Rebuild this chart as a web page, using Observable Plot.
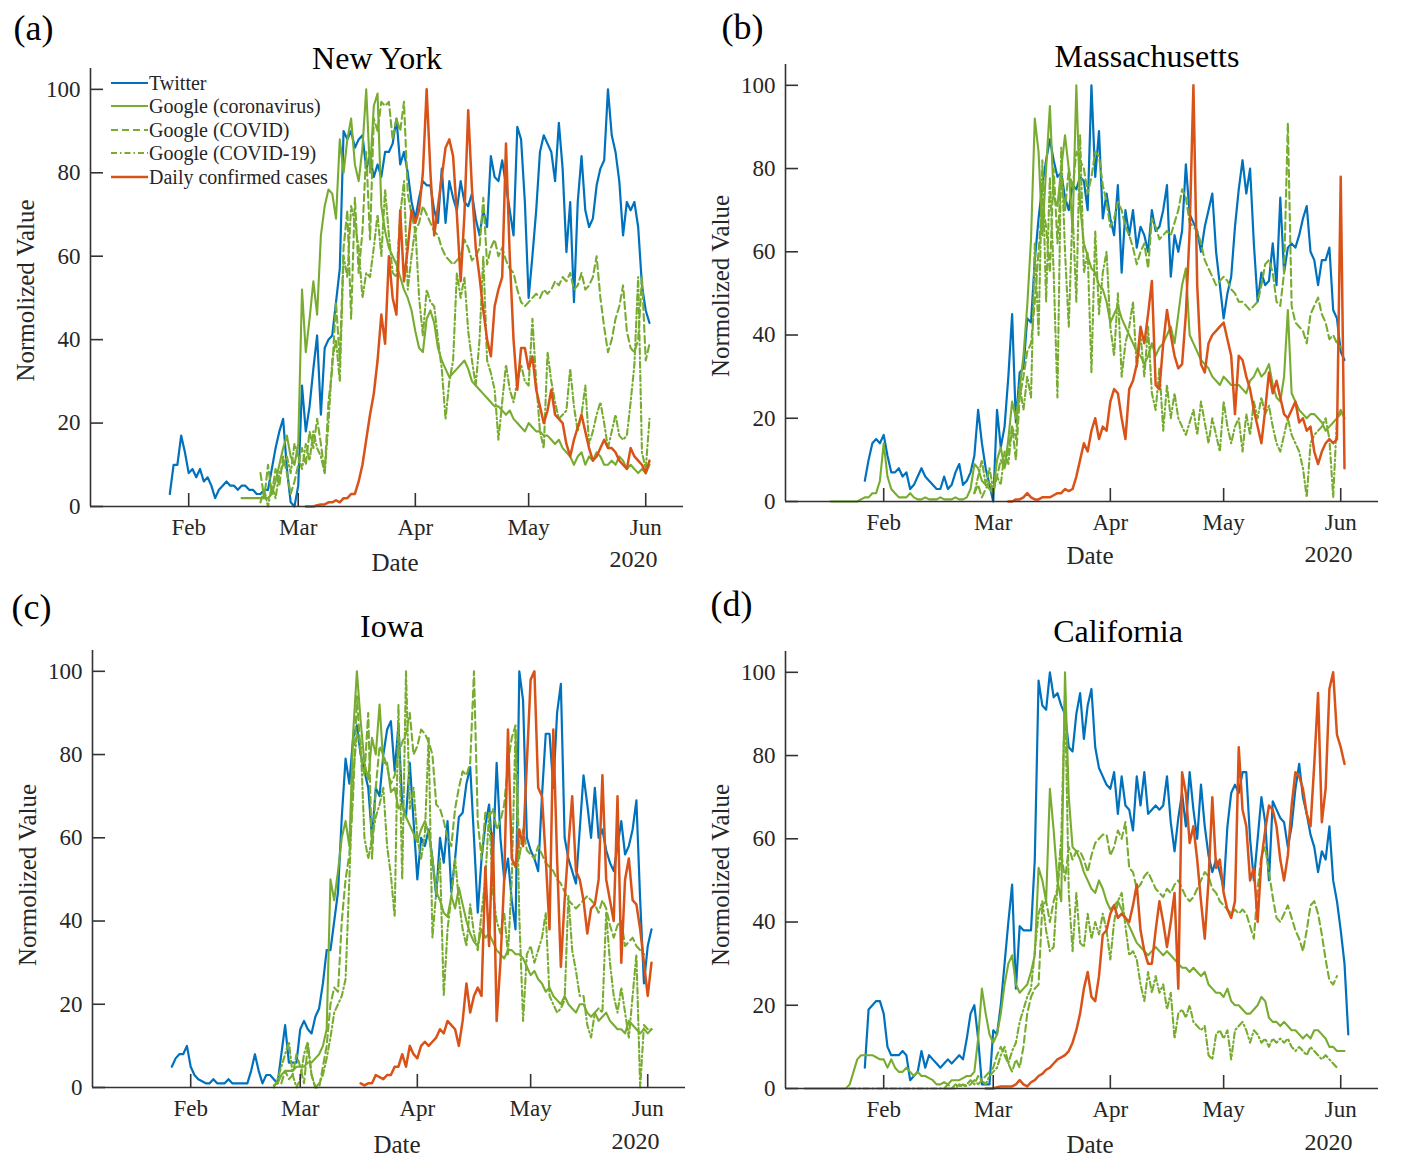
<!DOCTYPE html>
<html><head><meta charset="utf-8">
<script src="https://cdn.jsdelivr.net/npm/d3@7"></script>
<script src="https://cdn.jsdelivr.net/npm/@observablehq/plot@0.6"></script>
<style>
body{margin:0;background:#fff;}
#page{position:relative;width:1405px;height:1158px;background:#fff;overflow:hidden;font-family:"Liberation Serif","Times New Roman",serif;}
.panel{position:absolute;}
#legend{position:absolute;left:111px;top:71px;font-size:20px;color:#262626;line-height:1;}
.row{height:23.5px;display:flex;align-items:center;white-space:nowrap;}
.row svg{width:37px;height:10px;margin-right:1px;}
</style></head><body><div id="page"></div>
<script>
// ---------- shared ----------
const seriesNames = ["Twitter","Google (coronavirus)","Google (COVID)","Google (COVID-19)","Daily confirmed cases"];
const seriesStroke = ["#0072BD","#77AC30","#77AC30","#77AC30","#D95319"];
const seriesDash = [null, null, "7,4", "6,3,1.5,3", null];
const seriesWidth = [2.2, 2.1, 2.1, 2.1, 2.5];
const xDomain = ["2020-01-06","2020-06-11"];
const monthTicks = ["2020-02-01","2020-03-01","2020-04-01","2020-05-01","2020-06-01"];
const monthLabels = ["Feb","Mar","Apr","May","Jun"];
const yTicks = [0,20,40,60,80,100];
const panelTitles = ["New York","Massachusetts","Iowa","California"];
const panelTags = ["(a)","(b)","(c)","(d)"];
const yLabel = "Normolized Value";
const xLabel = "Date";
const yearLabel = "2020";

// ---------- New York ----------
const nyTwitterStart = "2020-01-27";
const nyTwitter = [3,10,10,17,13,8,9,7,9,6,7,5,2,4,5,6,5,5,4,5,5,4,4,3,3,4,4,
 9,14,18,21,9,1,0,5,
 29,18,24,33,41,22,38,40,41,49,57,
 90,88,90,86,88,89,81,84,79,82,79,85,
 85,87,93,82,85,80,73,69,74,78,77,77,71,68,81,68,78,74,71,78,73,72,75,69,65,71,67,
 84,79,78,83,77,71,65,91,88,73,50,60,71,85,89,87,85,78,92,81,61,73,49,73,84,71,67,69,77,81,83,100,89,85,78,65,73,71,73,67,53,47,44];
const nyCoronaStart = "2020-02-15";
const nyCorona = [2,2,2,2,2,2,2,2,
 3,6,10,14,17,12,10,15,
 52,37,45,54,46,65,72,76,75,69,88,80,88,93,82,78,86,100,80,96,99,72,
 66,62,60,58,55,52,50,47,42,38,37,45,47,44,38,35,33,31,32,33,34,35,33,30,
 29,28,27,26,25,24,24,23,22,23,21,20,19,18,20,19,18,18,17,17,16,15,16,14,13,12,10,12,13,10,12,11,13,12,10,10,11,10,12,11,9,10,9,8,9,8,10];
const nyCovidStart = "2020-02-20";
const nyCovid = [8,2,10,3,9,5,12,8,3,6,10,14,10,18,14,21,15,8,25,33,49,35,62,71,45,74,56,66,85,64,93,90,97,96,97,88,93,90,97,
 75,70,66,68,72,70,68,66,65,62,60,59,58,59,60,64,62,59,60,62,74,58,62,64,60,62,59,57,56,52,49,48,49,50,51,50,52,51,52,54,53,55,54,56,52,53,56,52,53,55,60,50,43,37,40,45,48,53,42,38,37,40,55,35,39];
const nyCovid19Start = "2020-02-20";
const nyCovid19 = [1,4,0,5,2,8,10,12,8,15,12,9,15,11,18,14,12,8,20,35,40,30,60,55,72,68,62,50,56,
 55,62,70,60,76,65,56,55,70,78,52,60,67,50,41,52,49,48,40,33,21,30,35,56,50,55,42,35,29,40,60,35,32,28,16,25,34,28,25,30,34,30,29,45,30,18,14,37,30,25,21,22,23,33,24,18,22,29,15,18,22,25,20,14,18,22,17,16,17,25,34,55,13,9,21];
const nyCasesStart = "2020-03-03";
const nyCases = [0,0,0,0.3,0.5,0.5,1,1,1.5,1,2,
 2,3,3,6,10,16,22,27,35,46,39,60,50,46,71,54,62,71,68,71,80,100,80,65,72,79,86,88,84,70,54,70,95,76,62,55,47,40,36,48,52,55,87,60,40,28,38,38,33,36,28,24,20,23,28,22,21,20,15,12,16,19,22,18,14,11,12,14,16,14,14,13,11,10,9,14,12,11,10,8,11];

// ---------- Massachusetts ----------
const maTwitterStart = "2020-01-27";
const maTwitter = [5,10,14,15,14,16,11,7,7,8,6,7,3,4,6,8,6,5,4,3,3,6,3,4,7,9,4,5,7,11,22,14,8,4,0,
 22,13,18,30,45,19,31,32,44,43,58,68,76,82,87,82,78,79,73,70,76,75,78,77,70,100,78,89,68,74,68,64,76,55,70,64,70,61,66,64,60,70,65,66,70,76,54,64,60,65,81,69,67,65,60,66,70,74,60,52,44,50,54,66,75,82,74,80,62,48,55,52,53,62,52,73,55,61,62,61,64,68,71,60,58,52,58,58,61,46,44,36,34];
const maCoronaStart = "2020-01-18";
const maCorona = [0,0,0,0,0,0,0,0,0.5,1,1,2,2,5,14,6,3,2,1,1,1,2,1,0.5,0.5,1,0.5,0.5,0.5,1,0.5,0.5,0.5,1,0.5,0.5,1,
 3,9,8,5,4,3,2,10,13,8,15,24,20,27,35,47,63,92,84,64,80,95,73,71,80,88,80,65,100,71,62,59,56,55,52,51,48,43,45,47,44,42,40,38,36,35,33,35,38,35,37,38,40,42,38,45,52,56,40,38,36,34,33,32,30,29,28,30,29,28,28,28,27,26,29,30,32,30,31,33,28,25,24,30,46,26,24,22,21,20,21,21,20,19,17,18,19,20,22,20];
const maCovidStart = "2020-02-25";
const maCovid = [2,4,1,3,5,2,6,10,8,12,18,10,25,30,36,38,48,60,72,66,55,80,
 62,78,70,80,75,84,82,80,74,78,84,83,76,72,66,68,72,70,66,64,61,57,60,62,56,68,66,63,64,65,64,67,70,75,73,67,66,65,62,58,56,54,52,53,54,53,51,50,48,48,47,46,47,48,52,57,58,55,48,47,55,91,47,43,42,41,38,45,47,49,45,43,39,40,38,37];
const maCovid19Start = "2020-02-25";
const maCovid19 = [2,6,10,4,8,3,6,4,12,9,18,15,28,22,30,25,62,40,82,48,78,55,25,85,60,42,70,48,88,55,60,31,65,45,55,60,42,35,50,30,38,42,48,32,40,30,42,26,22,32,17,28,20,26,20,18,16,19,22,16,24,19,14,20,16,12,24,18,14,18,20,12,21,16,24,20,25,21,23,18,14,12,16,
 20,16,14,12,8,1,14,16,17,18,20,15,1,20,21];
const maCasesStart = "2020-03-05";
const maCases = [0,0,0.5,0.5,1,2,1,0.5,0.5,1,1,1,1.5,2,2,3,2.5,3,6,10,14,12,17,20,15,18,17,24,27,26,20,15,27,29,33,42,38,45,53,28,27,38,46,40,35,32,33,45,65,100,52,33,31,38,40,41,42,43,39,35,21,35,34,30,27,22,18,14,22,31,26,29,25,21,20,22,24,19,20,17,18,12,9,12,14,15,14,15,78,8];

// ---------- Iowa ----------
const iaTwitterStart = "2020-01-27";
const iaTwitter = [5,7,8,8,10,5,3,2,1.5,1,1,2,1,1,1,2,1,1,1,1,1,4,8,4,1,3,3,2,1,8,15,6,6,6,14,16,14,13,17,19,25,33,33,40,47,65,
 79,73,84,87,80,76,72,60,72,70,80,86,88,76,87,68,65,78,64,50,60,58,62,55,46,60,54,64,47,55,65,66,73,77,60,42,55,63,68,55,78,60,50,55,45,38,100,93,60,57,55,52,70,85,85,72,90,97,60,55,52,49,62,75,68,60,72,60,62,57,54,52,58,64,56,58,62,69,45,25,34,38];
const iaCoronaStart = "2020-02-23";
const iaCorona = [0.5,1,3,4,4,4,5,5,5,6,6,7,8,10,14,50,45,52,60,64,58,85,100,88,78,74,84,80,92,78,78,71,72,67,68,65,63,61,59,62,64,61,55,47,45,42,41,46,43,48,44,40,37,35,34,38,36,37,35,33,32,31,33,33,32,32,31,29,27,28,26,25,23,24,22,21,20,22,20,19,18,20,20,18,17,18,16,17,18,16,15,14,14,13,16,15,14,13,14,13,14];
const iaCovidStart = "2020-02-25";
const iaCovid = [1,4,2,3,8,5,1,10,3,0,0,5,10,20,24,23,40,50,56,70,94,80,75,90,55,72,82,80,77,73,75,80,83,85,90,80,82,86,85,83,80,68,67,64,60,58,67,72,76,75,78,100,64,55,66,65,67,62,64,68,78,84,87,55,62,57,56,55,58,56,54,53,52,50,49,47,45,44,43,44,45,46,45,44,42,45,43,39,36,39,40,34,35,36,34,33,32];
const iaCovid19Start = "2020-02-23";
const iaCovid19 = [0,2,5,8,11,3,0,2,8,11,3,0,1,3,7,12,18,20,22,26,50,75,85,83,60,55,60,65,68,72,58,51,41,92,50,100,67,72,60,55,61,84,36,47,55,22,38,46,55,45,38,34,44,37,33,42,50,66,47,40,37,42,32,50,86,41,16,32,34,30,33,36,42,22,20,18,19,21,46,33,28,22,22,15,12,18,19,18,42,30,22,18,24,18,12,22,32,0,15,14,14];
const iaCasesStart = "2020-03-17";
const iaCases = [1,0.5,1,1,3,2.5,2,3,3,5,5,8,5,10,8,7,10,11,10,11,12,14,13,16,15,14,10,16,25,18,22,24,22,53,34,61,16,30,50,86,55,53,62,58,78,98,100,72,70,55,38,86,55,29,45,58,70,52,50,45,37,43,44,50,75,50,45,40,70,30,50,55,45,44,38,30,22,30];

// ---------- California ----------
const caTwitterStart = "2020-01-27";
const caTwitter = [5,19,20,21,21,18,10,8,8,8,9,8,2,3,4,9,5,8,7,6,5,6,7,6,7,8,7,12,18,20,12,1,1,1,14,13,20,30,40,49,24,39,38,38,38,55,
 98,92,91,100,94,95,92,90,82,81,90,95,84,92,96,82,77,75,73,72,76,66,75,68,67,62,75,68,76,66,67,68,67,68,75,64,57,65,71,63,76,67,60,73,63,56,52,55,52,48,63,71,73,71,76,76,60,50,60,70,64,50,69,67,65,64,58,63,72,78,70,66,61,58,52,57,55,63,50,45,38,30,13];
const caCoronaStart = "2020-01-11";
const caCorona = [0,0,0,0,0,0,0,0,0,0,0,0,
 1,4,7,8,8,8,8,7.5,7,7,5,7,5,4,4,5,4,3,4,3,3,2.5,2,1,1,1.5,1,2,2,2,2.5,3,3,4,
 12,24,18,13,11,13,18,25,30,32,25,23,24,25,28,32,53,50,45,72,62,50,45,100,70,58,57,55,52,50,48,47,50,48,45,43,44,45,43,41,39,37,35,34,33,32,33,34,33,32,33,32,31,30,29,29,28,29,28,27,28,25,24,23,23,22,24,21,20,20,19,18,18,19,20,22,21,17,16,16,15,16,15,14,14,13,12,13,12,14,14,13,12,10,10,9,9,9];
const caCovidStart = "2020-02-17";
const caCovid = [0,1,0,1,0.5,1,0.5,1,2,1,2,3,4,5,8,10,8,6,4,7,5,10,18,22,24,25,44,45,40,45,
 48,57,50,58,55,57,57,55,52,56,59,60,61,61,56,58,62,60,64,53,52,48,49,51,52,50,48,47,46,48,47,49,50,48,46,45,46,48,50,52,51,48,47,45,44,43,42,43,42,43,
 42,39,36,48,56,58,52,46,41,40,42,44,41,38,36,33,38,44,45,42,37,31,26,25,27];
const caCovid19Start = "2020-01-23";
const caCovid19 = [0,0,0,0,0,0,0,0,0,0,0,0,0,0,0,0,0,0,0,0,0,0,0,0,0,0,0,0,0,
 1,0.5,1,2,1,3,2,1,3,4,5,8,10,6,9,11,16,19,22,24,33,42,45,38,33,34,49,60,95,47,33,47,35,34,42,36,40,37,42,38,31,40,45,47,39,32,33,31,25,21,28,23,27,23,25,19,23,12,18,19,17,20,16,15,14,15,8,7,13,14,12,14,7,14,15,16,14,11,14,13,11,12,10,12,11,12,11,12,10,9,10,9,8,10,9,8,7,8,7,6,5];
const caCasesStart = "2020-02-28";
const caCases = [0,0,0,0.3,0.5,0.5,0.5,0.5,1,2,1,0.5,1.5,2,3,3.5,4.5,5,6,7,7.5,
 8,9,11,14,18,24,28,22,21,27,37,38,42,44,41,42,41,40,44,49,38,33,30,30,38,45,40,34,40,47,24,76,71,59,63,55,45,36,50,70,53,55,47,43,41,45,82,67,63,50,53,40,55,62,68,67,63,55,50,56,68,76,75,72,66,63,78,95,64,72,96,100,85,82,78];

// ---------- layout of the four panels (page pixels) ----------
const layout = [
  {left:0,   top:0,   width:700, height:590, mL:90, mR:17, mT:68, mB:84,
   tag:[-57,-40], title:[-10,-10], ylab:[-65,3], xlab:[8,56], year:[-50,53],
   series:[[nyTwitterStart,nyTwitter],[nyCoronaStart,nyCorona],[nyCovidStart,nyCovid],[nyCovid19Start,nyCovid19],[nyCasesStart,nyCases]]},
  {left:700, top:0,   width:705, height:590, mL:85, mR:27, mT:64, mB:89,
   tag:[-43,-37], title:[65,-8], ylab:[-65,3], xlab:[8,54], year:[-50,53],
   series:[[maTwitterStart,maTwitter],[maCoronaStart,maCorona],[maCovidStart,maCovid],[maCovid19Start,maCovid19],[maCasesStart,maCases]]},
  {left:0,   top:590, width:700, height:568, mL:92, mR:15, mT:60, mB:71,
   tag:[-61,-43], title:[3,-24], ylab:[-65,6], xlab:[8,57], year:[-50,54],
   series:[[iaTwitterStart,iaTwitter],[iaCoronaStart,iaCorona],[iaCovidStart,iaCovid],[iaCovid19Start,iaCovid19],[iaCasesStart,iaCases]]},
  {left:700, top:590, width:705, height:568, mL:85, mR:27, mT:61, mB:70,
   tag:[-54,-47], title:[36,-20], ylab:[-65,5], xlab:[8,56], year:[-50,54],
   series:[[caTwitterStart,caTwitter],[caCoronaStart,caCorona],[caCovidStart,caCovid],[caCovid19Start,caCovid19],[caCasesStart,caCases]]}
];

const page = document.getElementById("page");
const tickDates = monthTicks.map(d => new Date(d));
const fmtISO = d3.utcFormat("%Y-%m-%d");
const axisColor = "#333";
const centered = {textAnchor: "middle", lineAnchor: "middle"};

layout.forEach((p, pi) => {
  const rows = p.series.map(([start, vals]) => {
    const t0 = Date.parse(start);
    return vals.map((v, i) => ({date: new Date(t0 + i * 864e5), value: v}));
  });
  const chart = Plot.plot({
    width: p.width, height: p.height,
    marginLeft: p.mL, marginRight: p.mR, marginTop: p.mT, marginBottom: p.mB,
    x: {type: "utc", domain: xDomain.map(d => new Date(d))},
    y: {domain: [0, 105]},
    style: {fontFamily: '"Liberation Serif","Times New Roman",serif', fontSize: "23px", color: "#262626", background: "transparent", overflow: "visible"},
    marks: [
      ...rows.map((r, k) => Plot.line(r, {x: "date", y: "value", stroke: seriesStroke[k], strokeWidth: seriesWidth[k], strokeDasharray: seriesDash[k]})),
      Plot.ruleY([0], {stroke: axisColor, strokeWidth: 1.6}),
      Plot.ruleX([new Date(xDomain[0])], {stroke: axisColor, strokeWidth: 1.6}),
      Plot.axisY({ticks: yTicks, tickSize: -13, tickFormat: () => "", label: null, stroke: axisColor, strokeWidth: 1.6}),
      Plot.axisY({ticks: yTicks, tickSize: 0, tickPadding: 10, label: null}),
      Plot.axisX({ticks: tickDates, tickSize: -13, tickFormat: () => "", label: null, stroke: axisColor, strokeWidth: 1.6}),
      Plot.axisX({ticks: tickDates, tickSize: 0, tickPadding: 12, label: null,
                  tickFormat: d => monthLabels[monthTicks.indexOf(fmtISO(d))]}),
      Plot.text([panelTags[pi]], {text: d => d, frameAnchor: "top-left", dx: p.tag[0], dy: p.tag[1], fontSize: 36, fill: "#000", ...centered}),
      Plot.text([panelTitles[pi]], {text: d => d, frameAnchor: "top", dx: p.title[0], dy: p.title[1], fontSize: 32, fill: "#000", ...centered}),
      Plot.text([yLabel], {text: d => d, frameAnchor: "left", rotate: -90, dx: p.ylab[0], dy: p.ylab[1], fontSize: 25, fill: "#262626", ...centered}),
      Plot.text([xLabel], {text: d => d, frameAnchor: "bottom", dx: p.xlab[0], dy: p.xlab[1], fontSize: 25, fill: "#262626", ...centered}),
      Plot.text([yearLabel], {text: d => d, frameAnchor: "bottom-right", dx: p.year[0], dy: p.year[1], fontSize: 24, fill: "#262626", ...centered})
    ]
  });
  const div = document.createElement("div");
  div.className = "panel";
  div.style.left = p.left + "px";
  div.style.top = p.top + "px";
  div.appendChild(chart);
  page.appendChild(div);
});

// ---------- legend (panel a) ----------
const legend = document.createElement("div");
legend.id = "legend";
seriesNames.forEach((name, k) => {
  const row = document.createElement("div");
  row.className = "row";
  const dash = seriesDash[k] ? ` stroke-dasharray="${seriesDash[k]}"` : "";
  row.innerHTML = `<svg viewBox="0 0 37 10"><line x1="0" y1="5" x2="37" y2="5" stroke="${seriesStroke[k]}" stroke-width="${seriesWidth[k]}"${dash}/></svg><span>${name}</span>`;
  legend.appendChild(row);
});
page.appendChild(legend);
</script></body></html>
